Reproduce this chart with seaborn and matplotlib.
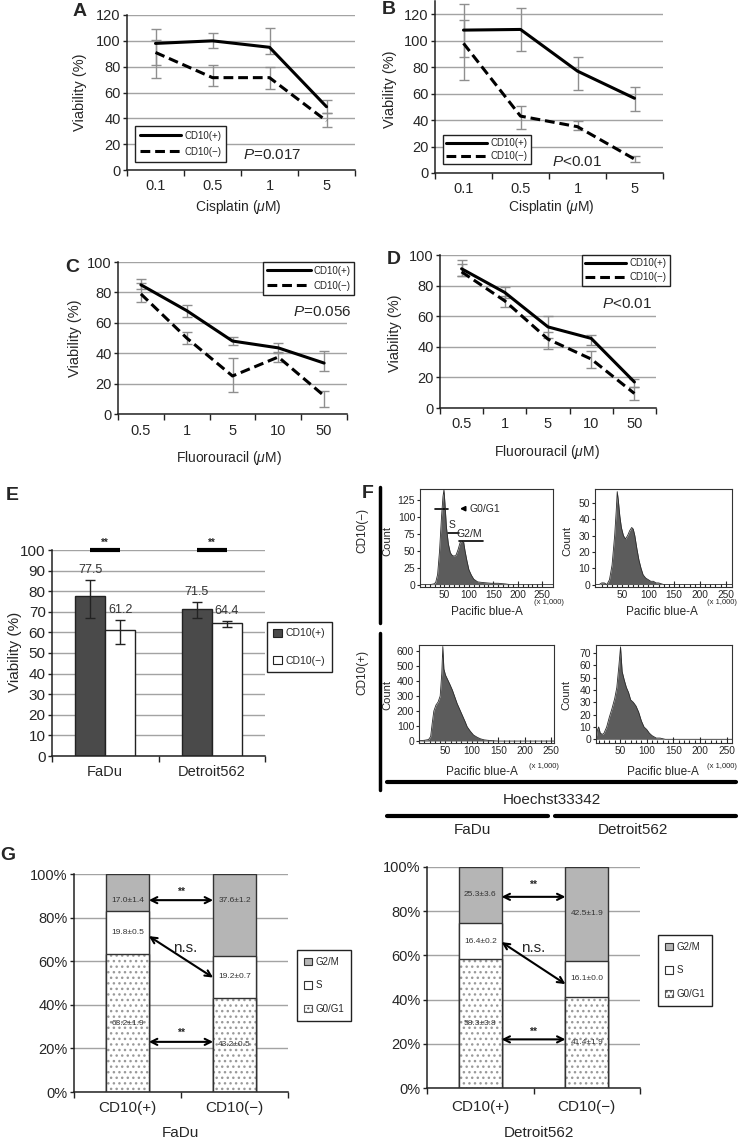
import matplotlib.pyplot as plt
import matplotlib.patches as mpatches
from matplotlib.lines import Line2D
import numpy as np
import pandas as pd
import seaborn as sns

sns.set_style('ticks')
plt.rcParams['font.family'] = ['Liberation Sans', 'DejaVu Sans']
plt.rcParams['mathtext.fontset'] = 'custom'
plt.rcParams['mathtext.it'] = 'Liberation Sans:italic'
plt.rcParams['mathtext.rm'] = 'Liberation Sans'
plt.rcParams['hatch.linewidth'] = 1.0

# ---- data ----
groups = ['CD10(+)', 'CD10(−)']
cis_doses = ['0.1', '0.5', '1', '5']
fu_doses = ['0.5', '1', '5', '10', '50']

# A: cisplatin (FaDu)
a_pos = [98, 100, 95, 49]
a_pos_lo = [81, 94.5, 90, 44]
a_pos_hi = [109, 106, 110, 54]
a_neg = [91, 71.5, 71.5, 38]
a_neg_lo = [71, 65, 63, 33.5]
a_neg_hi = [101, 81, 80, 44]

# B: cisplatin (Detroit562)
b_pos = [108, 108.5, 77, 56.5]
b_pos_lo = [88, 92, 63, 47]
b_pos_hi = [127.5, 124.5, 87.5, 65]
b_neg = [98, 43, 35, 10.5]
b_neg_lo = [70, 33.5, 32.5, 8.5]
b_neg_hi = [115.5, 51, 39.5, 13]

# C: fluorouracil (FaDu)
c_pos = [85, 68, 48, 43.5, 33.5]
c_pos_lo = [82, 63.5, 45.3, 40, 28.4]
c_pos_hi = [88.6, 72, 50.8, 47, 41.6]
c_neg = [79, 50, 25, 37.5, 12]
c_neg_lo = [73.5, 46, 14.7, 34, 4.8]
c_neg_hi = [86, 54, 37, 41, 15.3]

# D: fluorouracil (Detroit562)
d_pos = [91, 75.5, 53, 45.5, 17]
d_pos_lo = [86, 72, 46, 41, 14]
d_pos_hi = [96.5, 79, 60, 47.6, 19]
d_neg = [89, 70, 45, 32, 9.5]
d_neg_lo = [86, 66, 38.5, 26, 5.5]
d_neg_hi = [94, 73, 50, 37, 14]

# E: viability by cell line
cells = ['FaDu', 'Detroit562']
e_pos = [77.5, 71.5]
e_pos_lo = [67, 67]
e_pos_hi = [85.5, 75]
e_neg = [61.2, 64.4]
e_neg_lo = [54.5, 62.5]
e_neg_hi = [66, 65.5]

# F: Hoechst33342 histograms (Pacific blue-A x1,000 vs count)
f_fadu_neg_x = [0, 20, 28, 32, 36, 40, 44, 47, 49, 51, 54, 58, 62, 66, 70, 74, 78, 82, 86, 89,
                92, 96, 100, 105, 110, 118, 130, 145, 160, 175, 185, 272]
f_fadu_neg_y = [0, 0, 1, 3, 15, 50, 100, 130, 140, 120, 85, 60, 47, 43, 42, 44, 52, 62, 65, 64,
                50, 35, 22, 14, 8, 4, 3, 2, 2, 1, 0, 0]
f_det_neg_x = [-3, 5, 10, 15, 20, 25, 30, 35, 38, 40, 42, 45, 48, 52, 56, 60, 64, 68, 71, 74,
               78, 82, 86, 90, 95, 100, 105, 110, 115, 120, 130, 262]
f_det_neg_y = [0, 0, 1, 1, 0, 3, 12, 30, 45, 57, 52, 42, 35, 30, 28, 30, 33, 35, 34, 30,
               22, 15, 10, 6, 4, 3, 2, 2, 1, 1, 0, 0]
f_fadu_pos_x = [0, 10, 18, 22, 25, 28, 32, 36, 40, 43, 45, 47, 50, 54, 58, 63, 68, 72, 77, 82,
                87, 91, 97, 103, 110, 116, 123, 130, 140, 150, 255]
f_fadu_pos_y = [2, 5, 10, 30, 120, 200, 240, 260, 300, 450, 630, 480, 440, 410, 380, 340, 290, 250, 210, 170,
                130, 95, 65, 40, 25, 15, 8, 5, 2, 0, 0]
f_det_pos_x = [5, 8, 10, 13, 17, 20, 25, 30, 35, 40, 44, 48, 51, 54, 58, 62, 66, 70, 75, 80,
               85, 90, 95, 100, 105, 110, 118, 125, 135, 260]
f_det_pos_y = [0, 8, 10, 5, 4, 5, 10, 18, 25, 33, 42, 60, 75, 55, 48, 42, 38, 32, 30, 27,
               22, 15, 10, 8, 5, 3, 1, 1, 0, 0]

# G: cell cycle distribution (%)
fadu_g0g1 = [63.2, 43.2]
fadu_s = [19.8, 19.2]
fadu_g2m = [17.0, 37.6]
fadu_g0g1_sd = [1.9, 0.5]
fadu_s_sd = [0.5, 0.7]
fadu_g2m_sd = [1.4, 1.2]
det_g0g1 = [58.3, 41.4]
det_s = [16.4, 16.1]
det_g2m = [25.3, 42.5]
det_g0g1_sd = [3.8, 1.9]
det_s_sd = [0.2, 0.0]
det_g2m_sd = [3.6, 1.9]

# ---- figure helpers ----
W, H = 738, 1141
fig = plt.figure(figsize=(W / 100, H / 100), dpi=100)
GRID = '#a3a3a3'
TICK = 10.5


def px_axes(l, t, r, b):
    return fig.add_axes([l / W, 1 - b / H, (r - l) / W, (b - t) / H])


def ftext(x, y, s, **kw):
    kw.setdefault('ha', 'center')
    kw.setdefault('va', 'center')
    fig.text(x / W, 1 - y / H, s, **kw)


def fline(x0, y0, x1, y1, lw=2.5):
    fig.add_artist(Line2D([x0 / W, x1 / W], [1 - y0 / H, 1 - y1 / H], color='black', lw=lw))


def fig_legend(ax, handles, labels, x, y, **kw):
    leg = ax.legend(handles, labels, loc='upper left', bbox_to_anchor=(x / W, 1 - y / H),
                    bbox_transform=fig.transFigure, frameon=True, fancybox=False,
                    edgecolor='#222222', framealpha=1, borderaxespad=0, **kw)
    leg.get_frame().set_linewidth(1)
    return leg


def cat_axis(ax, labels, pad, size=TICK, ysize=TICK):
    n = len(labels)
    ax.set_xlim(-0.5, n - 0.5)
    ax.set_xticks(range(n), labels)
    ax.set_xticks(np.arange(n + 1) - 0.5, minor=True)
    ax.tick_params(axis='x', which='major', length=0, pad=pad, labelsize=size)
    ax.tick_params(axis='x', which='minor', length=4, width=1, direction='out', color='#222222')
    ax.tick_params(axis='y', length=3, width=1, pad=1.5, labelsize=ysize, color='#222222')
    for s in ['left', 'bottom']:
        ax.spines[s].set_linewidth(1.1)
        ax.spines[s].set_color('#222222')
    sns.despine(ax=ax)
    ax.yaxis.grid(True, color=GRID, lw=1)
    ax.set_axisbelow(True)


def line_panel(ax, doses, series, ylim, yticks, pad):
    x = np.arange(len(doses))
    styles = ['-', (0, (3.2, 1.6))]
    for (vals, lo, hi), ls in zip(series, styles):
        vals = np.array(vals, float)
        ax.errorbar(x, vals, yerr=[vals - np.array(lo), np.array(hi) - vals], fmt='none',
                    ecolor='#8f8f8f', elinewidth=1, capsize=3.5, capthick=1, zorder=2)
        sns.lineplot(x=x, y=vals, ax=ax, color='black', lw=2.2, linestyle=ls, zorder=3)
    ax.set_ylim(*ylim)
    ax.set_yticks(yticks)
    cat_axis(ax, doses, pad)
    ax.set_xlabel('')
    ax.set_ylabel('')
    handles = [Line2D([], [], color='black', lw=2.2, linestyle=ls) for ls in styles]
    return handles


# ---- A ----
axA = px_axes(127, 15, 355, 170)
hA = line_panel(axA, cis_doses, [(a_pos, a_pos_lo, a_pos_hi), (a_neg, a_neg_lo, a_neg_hi)],
                (0, 120), range(0, 121, 20), 6.5)
fig_legend(axA, hA, groups, 135, 126, fontsize=7, handlelength=4.2, handletextpad=0.4,
           labelspacing=0.6, borderpad=0.5)
ftext(243, 155, '$P$=0.017', fontsize=11, ha='left')
ftext(80, 92, 'Viability (%)', fontsize=10.5, rotation=90)
ftext(238, 207, r'Cisplatin ($\mu$M)', fontsize=10)
ftext(80, 11, 'A', fontsize=14, weight='bold')

# ---- B ----
axB = px_axes(435, 1, 663, 173)
hB = line_panel(axB, cis_doses, [(b_pos, b_pos_lo, b_pos_hi), (b_neg, b_neg_lo, b_neg_hi)],
                (0, 130), range(0, 121, 20), 6.5)
fig_legend(axB, hB, groups, 443, 135, fontsize=7, handlelength=4.2, handletextpad=0.4,
           labelspacing=0.35, borderpad=0.3)
ftext(552, 162, '$P$<0.01', fontsize=11, ha='left')
ftext(390, 89, 'Viability (%)', fontsize=10.5, rotation=90)
ftext(551, 207, r'Cisplatin ($\mu$M)', fontsize=10)
ftext(389, 9, 'B', fontsize=14, weight='bold')

# ---- C ----
axC = px_axes(118, 262, 347, 414)
hC = line_panel(axC, fu_doses, [(c_pos, c_pos_lo, c_pos_hi), (c_neg, c_neg_lo, c_neg_hi)],
                (0, 100), range(0, 101, 20), 7.5)
fig_legend(axC, hC, groups, 263, 262, fontsize=7, handlelength=4.5, handletextpad=0.3,
           labelspacing=0.5, borderpad=0.4)
ftext(352, 312, '$P$=0.056', fontsize=11, ha='right')
ftext(75, 338, 'Viability (%)', fontsize=10.5, rotation=90)
ftext(229, 458, r'Fluorouracil ($\mu$M)', fontsize=10)
ftext(72, 268, 'C', fontsize=14, weight='bold')

# ---- D ----
axD = px_axes(440, 255, 656, 408)
hD = line_panel(axD, fu_doses, [(d_pos, d_pos_lo, d_pos_hi), (d_neg, d_neg_lo, d_neg_hi)],
                (0, 100), range(0, 101, 20), 6.5)
fig_legend(axD, hD, groups, 582, 255, fontsize=7, handlelength=4.2, handletextpad=0.3,
           labelspacing=0.4, borderpad=0.35)
ftext(652, 304, '$P$<0.01', fontsize=11, ha='right')
ftext(395, 333, 'Viability (%)', fontsize=10.5, rotation=90)
ftext(547, 452, r'Fluorouracil ($\mu$M)', fontsize=10)
ftext(394, 260, 'D', fontsize=14, weight='bold')

# ---- E ----
axE = px_axes(52, 550, 265, 756)
dfE = pd.DataFrame({'cell': cells * 2,
                    'group': [g for g in groups for _ in cells],
                    'viability': e_pos + e_neg})
e_colors = {'CD10(+)': '#4a4a4a', 'CD10(−)': 'white'}
sns.barplot(data=dfE, x='cell', y='viability', hue='group', palette=e_colors, saturation=1,
            edgecolor='#222222', linewidth=1, width=0.56, errorbar=None, legend=False, ax=axE)
axE.set_ylim(0, 100)
axE.set_yticks(range(0, 101, 10))
cat_axis(axE, cells, 6.5, size=10.5, ysize=11)
axE.set_xlabel('')
axE.set_ylabel('')
for cont, vals, lo, hi in [(axE.containers[0], e_pos, e_pos_lo, e_pos_hi),
                           (axE.containers[1], e_neg, e_neg_lo, e_neg_hi)]:
    xs = np.array([b.get_x() + b.get_width() / 2 for b in cont])
    v = np.array(vals)
    axE.errorbar(xs, v, yerr=[v - np.array(lo), np.array(hi) - v], fmt='none', ecolor='#222222',
                 elinewidth=1, capsize=3.5, capthick=1, zorder=4)
    for xi, vi, hi_ in zip(xs, vals, hi):
        axE.text(xi, hi_ + 1.8, f'{vi:.1f}', ha='center', va='bottom', fontsize=9, color='#333333')
for i in range(len(cells)):
    x0 = axE.containers[0][i].get_x() + axE.containers[0][i].get_width() / 2
    x1 = axE.containers[1][i].get_x() + axE.containers[1][i].get_width() / 2
    axE.plot([x0, x1], [100, 100], color='black', lw=3, clip_on=False, solid_capstyle='butt')
    axE.text((x0 + x1) / 2, 101, '**', ha='center', va='bottom', fontsize=7, weight='bold')
hE = [mpatches.Patch(facecolor=e_colors[g], edgecolor='#222222', lw=0.8) for g in groups]
fig_legend(axE, hE, groups, 267, 622, fontsize=7.5, handlelength=0.8, handleheight=0.8,
           handletextpad=0.4, labelspacing=1.7, borderpad=0.6)
ftext(15, 652, 'Viability (%)', fontsize=11, rotation=90)
ftext(12, 495, 'E', fontsize=14, weight='bold')


# ---- F ----
def hist_panel(box, xs, ys, xlim, ylim, ystep):
    ax = px_axes(*box)
    ax.fill_between(xs, ys, color='#5c5c5c', lw=0, zorder=2)
    sns.lineplot(x=xs, y=ys, ax=ax, color='#2b2b2b', lw=0.6, zorder=3)
    ax.set_xlim(*xlim)
    ax.set_ylim(*ylim)
    ax.set_yticks(np.arange(0, ylim[1], ystep))
    ax.set_xticks([50, 100, 150, 200, 250])
    ax.set_xticks(np.arange(10, 260, 10), minor=True)
    ax.tick_params(axis='x', which='major', direction='in', length=4, width=0.8, labelsize=7.3, pad=2)
    ax.tick_params(axis='x', which='minor', direction='in', length=2.5, width=0.8)
    ax.tick_params(axis='y', direction='out', length=2.5, width=0.8, labelsize=7.5, pad=1)
    for s in ax.spines.values():
        s.set_visible(True)
        s.set_linewidth(0.8)
        s.set_color('#333333')
    ax.set_xlabel('')
    ax.set_ylabel('')
    return ax


axF1 = hist_panel((420, 489, 553, 587), f_fadu_neg_x, f_fadu_neg_y, (0, 272), (-3.5, 141), 25)
axF2 = hist_panel((595, 489, 732, 587), f_det_neg_x, f_det_neg_y, (-3, 262), (-1.5, 58.6), 10)
axF3 = hist_panel((419, 645, 554, 743), f_fadu_pos_x, f_fadu_pos_y, (0, 255), (-13, 640), 100)
axF4 = hist_panel((596, 645, 732, 743), f_det_pos_x, f_det_pos_y, (5, 260), (-3, 76.5), 10)

# gates on the first histogram
axF1.plot([30, 58], [112, 112], color='black', lw=1.2)
axF1.plot([58, 80], [75.5, 75.5], color='black', lw=1.2)
axF1.plot([80, 128], [65, 65], color='black', lw=1.2)
axF1.annotate('', xy=(76, 112), xytext=(98, 112),
              arrowprops=dict(arrowstyle='-|>', color='black', lw=1.2, mutation_scale=7))
axF1.text(102, 112, 'G0/G1', fontsize=7.5, va='center', ha='left')
axF1.text(66, 80, 'S', fontsize=7.5, va='bottom', ha='center')
axF1.text(100, 68, 'G2/M', fontsize=7.5, va='bottom', ha='center')

for cx, cy in [(387, 541), (567, 541), (387, 695), (566, 695)]:
    ftext(cx, cy, 'Count', fontsize=8, rotation=90)
for cx, cy in [(487, 612), (662, 612), (482, 772), (663, 772)]:
    ftext(cx, cy, 'Pacific blue-A', fontsize=8.5)
for cx, cy in [(549, 603), (722, 603), (544, 767), (722, 767)]:
    ftext(cx, cy, '(x 1,000)', fontsize=5.5)

fline(380, 487, 380, 623, lw=2.5)
fline(380, 633, 380, 790, lw=2.5)
ftext(362, 530, 'CD10(−)', fontsize=8.5, rotation=90)
ftext(362, 672, 'CD10(+)', fontsize=8.5, rotation=90)
fline(387, 782, 736, 782, lw=3)
fline(387, 816, 548, 816, lw=3)
fline(555, 816, 736, 816, lw=3)
ftext(552, 800, 'Hoechst33342', fontsize=11)
ftext(472, 830, 'FaDu', fontsize=11)
ftext(633, 830, 'Detroit562', fontsize=11)
ftext(368, 494, 'F', fontsize=14, weight='bold')

# ---- G ----
G2M_COLOR = '#b5b5b5'


def cycle_panel(box, g0g1, s, g2m, g0g1_sd, s_sd, g2m_sd, pad, top_label_y,
                arrows, ns_pos, star_y, legend_xy):
    ax = px_axes(*box)
    g0g1 = np.array(g0g1)
    s = np.array(s)
    g2m = np.array(g2m)
    ex = dict(x=groups, ax=ax, width=0.4, saturation=1, errorbar=None)
    sns.barplot(y=g0g1 + s + g2m, color=G2M_COLOR, edgecolor='#333333', linewidth=1, **ex)
    sns.barplot(y=g0g1 + s, color='white', edgecolor='#333333', linewidth=1, **ex)
    sns.barplot(y=g0g1, color='white', edgecolor='#9a9a9a', linewidth=0, hatch='...', **ex)
    for b in ax.containers[-1]:
        ax.add_patch(mpatches.Rectangle(b.get_xy(), b.get_width(), b.get_height(), fill=False,
                                        edgecolor='#333333', lw=1, zorder=3))
    ax.set_ylim(0, 100)
    ax.set_yticks(range(0, 101, 20), [f'{v}%' for v in range(0, 101, 20)])
    cat_axis(ax, groups, pad, size=11, ysize=10.5)
    ax.set_ylabel('')
    ax.set_xlabel('')
    for i in range(len(groups)):
        y_top = g0g1[i] + s[i] + g2m[i] / 2 if top_label_y is None else top_label_y
        for yv, val, sd in [(g0g1[i] / 2, g0g1[i], g0g1_sd[i]),
                            (g0g1[i] + s[i] / 2, s[i], s_sd[i]),
                            (y_top, g2m[i], g2m_sd[i])]:
            ax.text(i, yv, f'{val:.1f}±{sd:.1f}', ha='center', va='center', fontsize=6,
                    color='#333333', zorder=5)
    for (y0, y1) in arrows:
        ax.annotate('', xy=(0.8, y1), xytext=(0.2, y0),
                    arrowprops=dict(arrowstyle='<->', color='black', lw=1.5, mutation_scale=11,
                                    shrinkA=0, shrinkB=0), zorder=6)
    ax.text(ns_pos[0], ns_pos[1], 'n.s.', ha='center', va='center', fontsize=11)
    for sy in star_y:
        ax.text(0.5, sy, '**', ha='center', va='center', fontsize=7.5, weight='bold')
    hG = [mpatches.Patch(facecolor=G2M_COLOR, edgecolor='#333333', lw=0.8),
          mpatches.Patch(facecolor='white', edgecolor='#333333', lw=0.8),
          mpatches.Patch(facecolor='white', edgecolor='#555555', lw=0.8, hatch='....')]
    fig_legend(ax, hG, ['G2/M', 'S', 'G0/G1'], legend_xy[0], legend_xy[1], fontsize=7,
               handlelength=0.8, handleheight=0.8, handletextpad=0.4, labelspacing=1.4,
               borderpad=0.7)
    return ax


cycle_panel((74, 874, 288, 1092), fadu_g0g1, fadu_s, fadu_g2m, fadu_g0g1_sd, fadu_s_sd, fadu_g2m_sd,
            6.5, 88, [(88, 88), (71.5, 52.5), (23, 23)], (0.54, 66), [91.7, 27], (297, 950))
cycle_panel((427, 867, 640, 1088), det_g0g1, det_s, det_g2m, det_g0g1_sd, det_s_sd, det_g2m_sd,
            8.5, None, [(86.5, 86.5), (66, 47), (22, 22)], (0.5, 63.3), [91.9, 25.3],
            (658, 935))
ftext(180, 1133, 'FaDu', fontsize=11)
ftext(539, 1133, 'Detroit562', fontsize=11)
ftext(8, 855, 'G', fontsize=14, weight='bold')

fig.savefig('out.png', dpi=100)
